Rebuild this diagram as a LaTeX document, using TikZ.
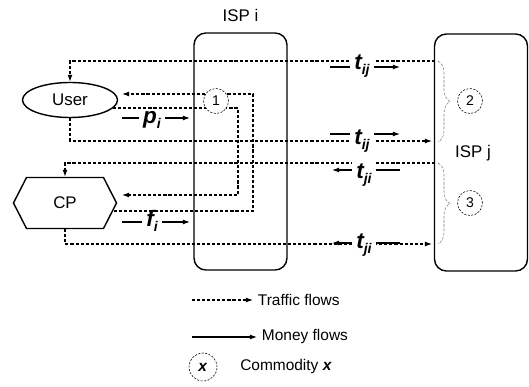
\documentclass[tikz,border=0pt]{standalone}
\usepackage{fontspec}
\setmainfont{Liberation Sans}
\usetikzlibrary{shapes.geometric, shapes.symbols, arrows.meta, positioning, backgrounds, calc, decorations.pathreplacing}

\newcommand{\flowlabel}[2]{{\fontsize{16}{16}\selectfont\bfseries\itshape #1}{\fontsize{10}{10}\selectfont\bfseries\itshape\raisebox{-0.6ex}{#2}}}

\begin{document}
\begin{tikzpicture}[x=0.025cm, y=-0.025cm]
    % Define styles
    \tikzset{
        party/.style={
            draw=black,
            line width=1pt,
            font=\fontsize{12}{14}\selectfont
        },
        isp box/.style={
            rectangle,
            rounded corners=0.3cm,
            draw=black,
            line width=1pt,
            minimum width=2.325cm,
            minimum height=5.925cm
        },
        traffic/.style={-{Latex[length=5pt,width=3.5pt]}, thick, dash pattern=on 2.2pt off 1.4pt},
        money/.style={-{Latex[length=5pt,width=3.5pt]}, thick},
        commodity/.style={circle, draw, thin, dash pattern=on 1.5pt off 1pt, fill=white,
            minimum size=0.625cm, inner sep=0pt, font=\fontsize{10}{12}\selectfont},
        flow label/.style={fill=white, inner xsep=3pt, inner ysep=1.5pt},
        brace line/.style={decorate, decoration={brace, amplitude=0.3cm}, gray, thin, dash pattern=on 2pt off 1pt},
        legend text/.style={anchor=west, font=\fontsize{11}{13}\selectfont}
    }
    \useasboundingbox (0,0) rectangle (529,387);

    % User and content provider
    \node[party, ellipse, minimum width=2.375cm, minimum height=0.875cm] (user) at (70,100) {User};
    \node[party, signal, signal to=east and west, signal pointer angle=126,
          minimum width=2.575cm, minimum height=1.275cm] (cp) at (65,203) {CP};

    % The two ISPs
    \node[isp box] (ispi) at (240.5,151.5) {};
    \node[above=0.15cm of ispi, font=\fontsize{12}{14}\selectfont] (ispi label) {ISP i};
    \node[isp box] (ispj) at (481,152.5) {};
    \node[font=\fontsize{12}{14}\selectfont] (ispj label) at (473,153) {ISP j};

    % Payments
    \node[flow label] (pi) at (152,120) {\flowlabel{p}{i}};
    \node[flow label] (fi) at (152,221) {\flowlabel{f}{i}};
    \node[flow label] (tij top) at (362,66) {\flowlabel{t}{ij}};
    \node[flow label] (tij bot) at (362,141) {\flowlabel{t}{ij}};
    \node[flow label] (tji top) at (364,175) {\flowlabel{t}{ji}};
    \node[flow label] (tji bot) at (364,245) {\flowlabel{t}{ji}};

    % Ends at ISP j
    \coordinate (j1) at (435,61);
    \coordinate (j2) at (432,141);
    \coordinate (j3) at (435,163);
    \coordinate (j4) at (432,244);

    \begin{scope}[on background layer]
        % Traffic through ISP j
        \draw[traffic] (j1) -| (user.north);
        \draw[traffic] (user.south) |- (j2);
        \draw[traffic] (j3) -| (cp.north);
        \draw[traffic] (cp.south) |- (j4);

        % Money flows
        \draw[money] ($(pi)+(-30,-2)$) -- ($(pi)+(38,-2)$);
        \draw[money] ($(fi)+(-30,1)$) -- ($(fi)+(38,1)$);
        \draw[money] ($(tij top)+(-32,1)$) -- ($(tij top)+(38,1)$);
        \draw[money] ($(tij bot)+(-32,-7)$) -- ($(tij bot)+(38,-7)$);
        \draw[money] ($(tji top)+(36,-5)$) -- ($(tji top)+(-32,-5)$);
        \draw[money] ($(tji bot)+(36,-2)$) -- ($(tji bot)+(-32,-2)$);
    \end{scope}

    % Traffic that stays inside ISP i
    \coordinate (u in) at (122,94);
    \coordinate (u out) at (113,108);
    \coordinate (cp in) at (122,195);
    \coordinate (cp out) at (114,211);
    \coordinate (loop in) at (238,195);
    \coordinate (loop out) at (253,94);
    \draw[traffic] (u out) -| (loop in) -- (cp in);
    \draw[traffic] (cp out) -| (loop out) -- (u in);

    % Commodities
    \node[commodity] (c1) at (216,101) {1};
    \draw[brace line] (438,61) -- (438,142);
    \node[commodity] (c2) at (470,101) {2};
    \draw[brace line] (438,163) -- (438,244);
    \node[commodity] (c3) at (470,203) {3};

    % Legend
    \coordinate (legend traffic) at (192,300);
    \node[legend text] (traffic text) at (253,300) {Traffic flows};
    \draw[traffic] (legend traffic) -- (traffic text);
    \coordinate (legend money) at (192,337);
    \node[legend text] (money text) at (257,337) {Money flows};
    \draw[money] (legend money) -- (money text);
    \node[commodity, minimum size=0.7cm, font=\fontsize{11}{13}\selectfont] (legend circle) at (203,367) {\textbf{\textit{x}}};
    \node[legend text, right=0.45cm of legend circle] (commodity text) {Commodity \textbf{\textit{x}}};
\end{tikzpicture}
\end{document}
